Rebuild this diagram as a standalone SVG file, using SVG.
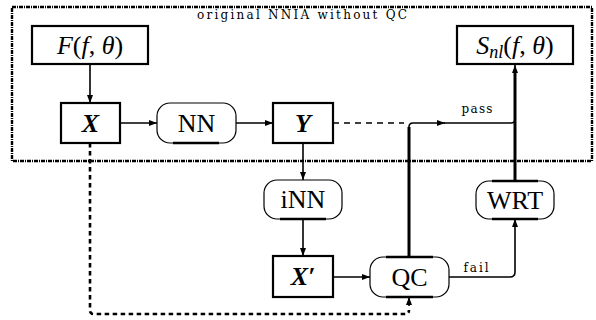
<svg xmlns="http://www.w3.org/2000/svg" width="596" height="320" viewBox="0 0 596 320">
<defs>
<marker id="ah" markerWidth="8" markerHeight="6" refX="8" refY="3" orient="auto" markerUnits="userSpaceOnUse">
<path d="M0,0 L8,3 L0,6 Z" fill="#000"/>
</marker>
</defs>
<style>
.box{fill:#fff;stroke:#000;stroke-width:2.2}
.rbox{fill:#fff;stroke:#000;stroke-width:1.2}
.flat{stroke:#000;stroke-width:2.4;fill:none}
.edge{fill:none;stroke:#000;stroke-width:1.6}
.thick{fill:none;stroke:#000;stroke-width:3}
.dash{fill:none;stroke:#000;stroke-width:2.6;stroke-dasharray:4.5,3.5}
.t{font-family:"Liberation Serif","DejaVu Serif",serif;fill:#000;text-anchor:middle}
.big{font-size:26px}
.m{font-style:italic}
.b{font-weight:bold;font-style:italic}
.small{font-size:12px;font-family:"DejaVu Serif","Liberation Serif",serif}
</style>
<rect width="596" height="320" fill="#fff"/>
<g id="frame">
<rect x="12" y="7" width="580" height="154" fill="none" stroke="#000" stroke-width="2.4" stroke-dasharray="4,1,1,1"/>
<text class="t small" x="302" y="19" textLength="210" lengthAdjust="spacing">original NNIA without QC</text>
</g>
<g id="connectors">
<path class="edge" d="M90,64 V103" marker-end="url(#ah)"/>
<path class="edge" d="M120,123 H157" marker-end="url(#ah)"/>
<path class="edge" d="M236,123 H273" marker-end="url(#ah)"/>
<path class="edge" d="M303,143 V180" marker-end="url(#ah)"/>
<path class="edge" d="M303,219 V256" marker-end="url(#ah)"/>
<path class="edge" d="M333,277 H370" marker-end="url(#ah)"/>
<path class="edge" d="M333,123 H404" stroke-dasharray="6,5"/>
<path class="thick" d="M409,257 V127"/>
<path class="edge" d="M409,127 Q409,123 413,123 H445" marker-end="url(#ah)"/>
<path class="edge" d="M444,123 H511 Q515,123 515,119"/>
<path class="thick" d="M515,181 V72"/>
<path class="edge" d="M515,72 V65" marker-end="url(#ah)"/>
<path class="edge" d="M449,277 H510 Q515,277 515,272 V219" marker-end="url(#ah)"/>
<path class="dash" d="M90,143 V310 Q90,314 94,314 H405 Q409,314 409,310"/>
<path class="edge" d="M409,306 V297" marker-end="url(#ah)"/>
<text class="t small" x="477" y="113" textLength="31" lengthAdjust="spacing">pass</text>
<text class="t small" x="476" y="272" textLength="25" lengthAdjust="spacing">fail</text>
</g>
<g id="F">
<rect class="box" x="32" y="26" width="116" height="38"/>
<text class="t big" x="90" y="54"><tspan class="m">F</tspan>(<tspan class="m">f</tspan>, <tspan class="m">θ</tspan>)</text>
</g>
<g id="X">
<rect class="box" x="61" y="103" width="59" height="40"/>
<text class="t big b" x="90.5" y="132">X</text>
</g>
<g id="NN">
<rect class="rbox" x="157" y="103" width="79" height="40" rx="13"/>
<path class="flat" d="M173,143 H219"/>
<text class="t big" x="196.5" y="132">NN</text>
</g>
<g id="Y">
<rect class="box" x="273" y="103" width="60" height="40"/>
<text class="t big b" x="303" y="132">Y</text>
</g>
<g id="Snl">
<rect class="box" x="457" y="26" width="116" height="38"/>
<text class="t big" x="515" y="54"><tspan class="m">S</tspan><tspan class="m" font-size="18" dy="4">nl</tspan><tspan dy="-4">(</tspan><tspan class="m">f</tspan>, <tspan class="m">θ</tspan>)</text>
</g>
<g id="iNN">
<rect class="rbox" x="264" y="180" width="78" height="39" rx="13"/>
<path class="flat" d="M280,219 H326"/>
<text class="t big" x="303" y="208">iNN</text>
</g>
<g id="Xp">
<rect class="box" x="273" y="256" width="60" height="41"/>
<text class="t big b" x="303" y="285">X′</text>
</g>
<g id="QC">
<rect class="rbox" x="370" y="257" width="79" height="40" rx="13"/>
<path class="flat" d="M386,257 H433 M386,297 H433"/>
<text class="t big" x="409.5" y="286">QC</text>
</g>
<g id="WRT">
<rect class="rbox" x="476" y="181" width="78" height="38" rx="13"/>
<path class="flat" d="M492,181 H538 M492,219 H538"/>
<text class="t big" x="515" y="209">WRT</text>
</g>
</svg>
